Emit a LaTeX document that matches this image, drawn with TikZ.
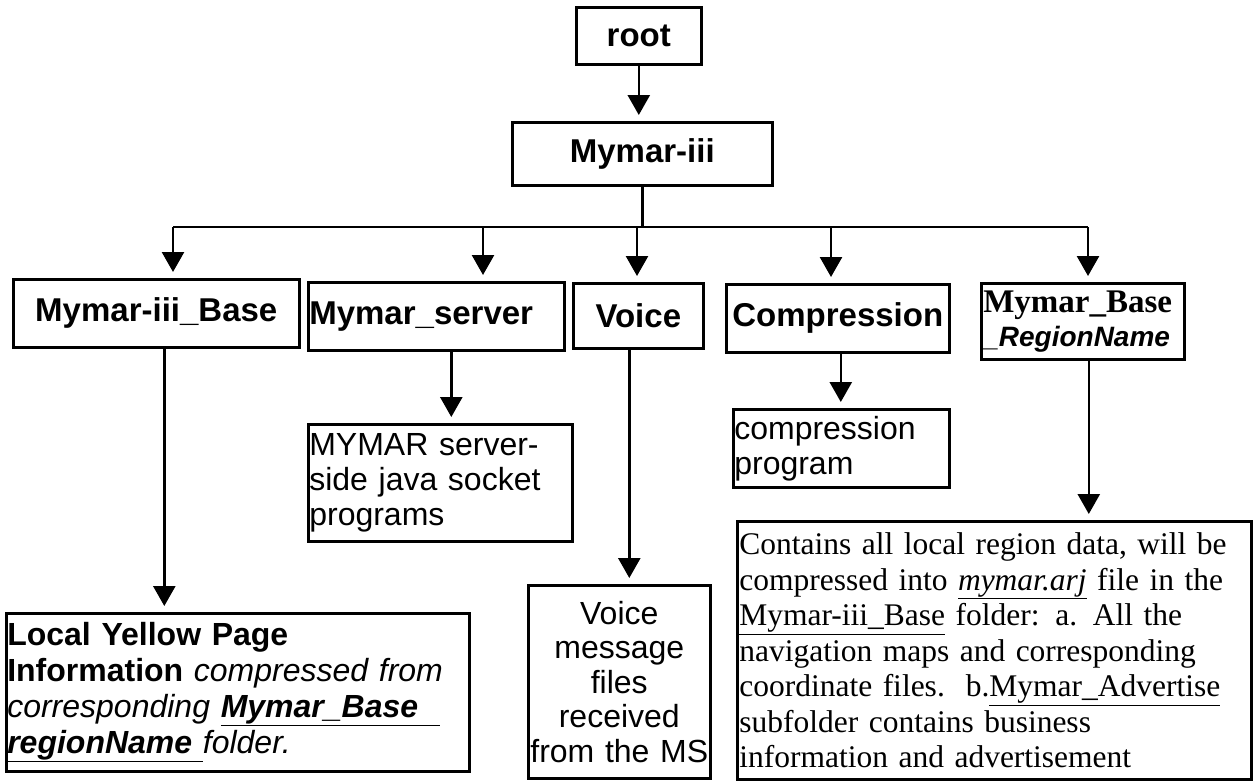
\documentclass[tikz,border=0pt]{standalone}
\usepackage{fontspec}
\setmainfont{Liberation Serif}
\setsansfont{Liberation Sans}
\usetikzlibrary{arrows.meta}
\begin{document}
\begin{tikzpicture}[x=1pt,y=-1pt,
  box/.style={draw, line width=2.6pt, inner xsep=3pt, inner ysep=2pt, anchor=north west},
  lbl/.style={font=\sffamily\bfseries\fontsize{33}{36}\selectfont},
  body/.style={font=\sffamily\fontsize{32}{35}\selectfont},
  conn/.style={line width=2.6pt},
  arr/.style={line width=2.6pt, -{Triangle[length=20pt,width=22pt]}, shorten >=6pt}
]
\useasboundingbox (0,0) rectangle (1256,782);

% top
\node[box, lbl, minimum width=125pt, minimum height=57pt] (root) at (575,6) {root};
\node[box, lbl, minimum width=260pt, minimum height=63pt] (mymar) at (511,121) {Mymar-iii};

% row 1
\node[box, lbl, minimum width=286pt, minimum height=68pt] (base) at (12,278) {Mymar-iii\_Base};
\node[box, lbl, minimum height=68pt, text width=254pt, inner xsep=1pt, align=left] (server) at (307,281) {\raisebox{-7pt}{Mymar\_server}};
\node[box, lbl, minimum width=130pt, minimum height=65pt] (voice) at (572,282) {Voice};
\node[box, lbl, minimum width=223pt, minimum height=68pt] (comp) at (725,283) {Compression};
\node[box, minimum height=76pt, text width=199pt, inner xsep=2pt, align=left, font=\fontsize{30}{34}\selectfont] (mbase) at (980,282)
  {{\rmfamily\bfseries\fontsize{33}{34}\selectfont Mymar\_Base}\\{\sffamily\bfseries\itshape\fontsize{28}{34}\selectfont \_RegionName}};

% row 2
\node[box, body, minimum height=117pt, text width=262pt, inner xsep=1pt, align=left] (serverd) at (307,423) {MYMAR server-\\side java socket\\programs};
\node[box, body, minimum height=78pt, text width=214pt, inner xsep=1pt, align=left] (compd) at (732,408) {compression\\program};

% row 3
\node[box, body, minimum height=158pt, text width=461pt, inner xsep=1pt, align=left, font=\sffamily\fontsize{32}{36}\selectfont] (based) at (5,612)
  {\textbf{Local Yellow Page}\\\textbf{Information} \textit{compressed from}\\\textit{corresponding \underline{\textbf{Mymar\_Base\ \ }}}\\\textit{\underline{\textbf{regionName\ }}folder.}};
\node[box, body, minimum height=193pt, text width=178pt, inner xsep=2pt, align=center, font=\sffamily\fontsize{32}{34.5}\selectfont] (voiced) at (527,584)
  {Voice\\message\\files\\received\\from the MS};
\node[box, minimum height=258pt, text width=510pt, inner xsep=2pt, align=left, font=\rmfamily\fontsize{31.5}{35.5}\selectfont] (mbased) at (736,520)
  {\mbox{Contains all local region data, will be}\\\mbox{compressed into \underline{\textit{mymar.arj}} file in the}\\\mbox{\underline{Mymar-iii\_Base} folder: a. All the}\\\mbox{navigation maps and corresponding}\\\mbox{coordinate files.\ \ b.\underline{Mymar\_Advertise}}\\\mbox{subfolder contains business}\\\mbox{information and advertisement}};

% connectors
\draw[arr] (root.south) -- (root.south |- mymar.north);
\coordinate (b1) at (173,227);
\coordinate (b2) at (483,227);
\coordinate (b3) at (637,227);
\coordinate (b4) at (831,227);
\coordinate (b5) at (1088,227);
\draw[conn] (mymar.south) -- (mymar.south |- b3);
\draw[conn] (b1) -- (b5);
\draw[arr] (b1) -- (b1 |- base.north);
\draw[arr] (b2) -- (b2 |- server.north);
\draw[arr] (b3) -- (b3 |- voice.north);
\draw[arr] (b4) -- (b4 |- comp.north);
\draw[arr] (b5) -- (b5 |- mbase.north);

\coordinate (d1) at ([xshift=8pt]base.south);
\coordinate (d2) at ([xshift=15pt]server.south);
\coordinate (d3) at ([xshift=-9pt]voice.south);
\coordinate (d4) at ([xshift=3pt]comp.south);
\coordinate (d5) at ([xshift=6pt]mbase.south);
\draw[arr] (d1) -- (d1 |- based.north);
\draw[arr] (d2) -- (d2 |- serverd.north);
\draw[arr] (d3) -- (d3 |- voiced.north);
\draw[arr] (d4) -- (d4 |- compd.north);
\draw[arr] (d5) -- (d5 |- mbased.north);
\end{tikzpicture}
\end{document}
